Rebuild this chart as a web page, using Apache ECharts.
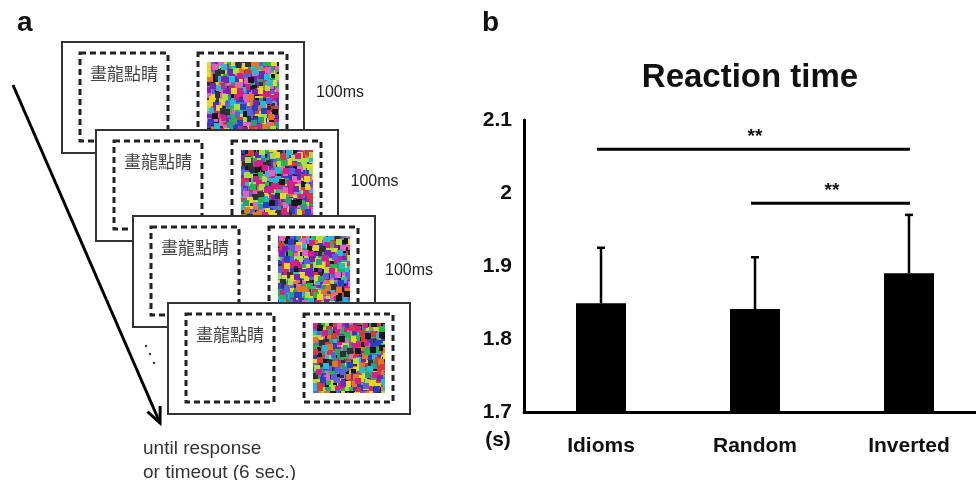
<!DOCTYPE html>
<html>
<head>
<meta charset="utf-8">
<script src="https://cdn.jsdelivr.net/npm/echarts@6/dist/echarts.min.js"></script>
<style>
  html, body { margin: 0; padding: 0; background: #fff; overflow: hidden; }
  #chart { width: 1000px; height: 480px; }
</style>
</head>
<body>
<div id="chart"></div>
<script>
// panel b data
const categories = ['Idioms', 'Random', 'Inverted'];
const meanRT = [1.849, 1.841, 1.890];
const errTop = [1.925, 1.912, 1.970];
const yTicks = { min: 1.7, max: 2.1, interval: 0.1 };
// significance brackets: [from category index, to category index, y level]
const sigPairs = [[0, 2, 2.06], [1, 2, 1.986]];
const sigLabels = ['**', '**'];

// panel a text
const idiom = '畫龍點睛';
const durations = ['100ms', '100ms', '100ms'];
const endNote = ['until response', 'or timeout (6 sec.)'];

const FONT = '"Liberation Sans", Arial, sans-serif';
const chart = echarts.init(document.getElementById('chart'));

// colour-noise mask, drawn once per frame on a small canvas (decoration only)
const palette = ['#d81c8c', '#1fb84a', '#20bcd8', '#2a3fc8', '#e8d820', '#e8761c',
  '#7a22b8', '#151515', '#a8e040', '#d83a3a', '#e860c0', '#2a9a80', '#5a60e0', '#303030'];
function noiseCanvas(w, h, seed) {
  const c = document.createElement('canvas');
  c.width = w; c.height = h;
  const ctx = c.getContext('2d');
  const cell = 4;
  for (let pass = 0; pass < 3; pass++) {
    for (let j = 0; j < h / cell + 1; j++) {
      for (let i = 0; i < w / cell + 1; i++) {
        let k = Math.imul(i + 31 * pass, 73856093) ^ Math.imul(j + 17 + 5 * pass, 19349663) ^ Math.imul(seed + 7, 83492791);
        k = (k ^ (k >>> 13)) >>> 0;
        k = Math.imul(k, 2654435761) >>> 0;
        if (pass > 0 && (k & 3) !== 0) continue;
        ctx.fillStyle = palette[(k >>> 5) % palette.length];
        const dx = pass ? ((k >>> 9) % 5) - 2 : 0;
        const dy = pass ? ((k >>> 12) % 5) - 2 : 0;
        ctx.fillRect(i * cell + dx, j * cell + dy, cell + pass, cell + (pass ? 2 : 0));
      }
    }
  }
  return c;
}

const frameOrigins = [[62, 42], [96, 130], [133, 216], [168, 303]];
const dashStyle = { fill: null, stroke: '#222', lineWidth: 3, lineDash: [6, 4] };

const frames = frameOrigins.map(([ox, oy], k) => ({
  type: 'group',
  x: ox, y: oy, z: 10 + k,
  children: [
    { type: 'rect', shape: { x: 0, y: 0, width: 242, height: 111 },
      style: { fill: '#fff', stroke: '#333', lineWidth: 2 } },
    { type: 'rect', shape: { x: 18, y: 11, width: 88, height: 88 }, style: dashStyle },
    { type: 'rect', shape: { x: 136, y: 11, width: 89, height: 88 }, style: dashStyle },
    { type: 'image', style: { image: noiseCanvas(72, 70, k), x: 145, y: 20, width: 72, height: 70 } },
    { type: 'text', x: 28, y: 32,
      style: { text: idiom, fill: '#444', font: '17px "Noto Sans CJK TC", sans-serif', textVerticalAlign: 'middle' } }
  ]
}));

const durationText = durations.map((t, k) => ({
  type: 'text', x: 316 + k * 34.5, y: 93 + k * 89,
  style: { text: t, fill: '#222', font: '16px ' + FONT, textVerticalAlign: 'middle' }
}));

// arrow down the left side
const ax0 = 13, ay0 = 85, ax1 = 160, ay1 = 423;
const ang = Math.atan2(ay1 - ay0, ax1 - ax0);
const head = 17, spread = 0.42;
const arrow = [
  { type: 'line', shape: { x1: ax0, y1: ay0, x2: ax1, y2: ay1 }, style: { stroke: '#000', lineWidth: 3 } },
  { type: 'polyline', shape: { points: [
      [ax1 - head * Math.cos(ang - spread), ay1 - head * Math.sin(ang - spread)],
      [ax1, ay1],
      [ax1 - head * Math.cos(ang + spread), ay1 - head * Math.sin(ang + spread)]] },
    style: { stroke: '#000', lineWidth: 3, fill: null } }
];
const dots = [[146, 346], [150, 354], [154, 363]].map(([x, y]) => ({
  type: 'circle', shape: { cx: x, cy: y, r: 1.2 }, style: { fill: '#333' }
}));
const notes = endNote.map((t, i) => ({
  type: 'text', x: 143, y: 449 + i * 24,
  style: { text: t, fill: '#333', font: '19px ' + FONT, textVerticalAlign: 'middle' }
}));

const labels = [
  { type: 'text', x: 17, y: 37, style: { text: 'a', fill: '#111', font: 'bold 28px ' + FONT, textVerticalAlign: 'bottom' } },
  { type: 'text', x: 482, y: 37, style: { text: 'b', fill: '#111', font: 'bold 28px ' + FONT, textVerticalAlign: 'bottom' } },
  { type: 'text', x: 750, y: 78, style: { text: 'Reaction time', fill: '#111', font: 'bold 33px ' + FONT, textAlign: 'center', textVerticalAlign: 'middle' } },
  { type: 'text', x: 498, y: 440, style: { text: '(s)', fill: '#111', font: 'bold 21px ' + FONT, textAlign: 'center', textVerticalAlign: 'middle' } }
];

chart.setOption({
  animation: false,
  grid: { left: 524, top: 120, width: 462, height: 292 },
  xAxis: {
    type: 'category',
    data: categories,
    axisLine: { lineStyle: { color: '#000', width: 3 } },
    axisTick: { show: false },
    axisLabel: { color: '#111', fontFamily: FONT, fontWeight: 'bold', fontSize: 21, margin: 24 }
  },
  yAxis: {
    type: 'value',
    min: yTicks.min, max: yTicks.max, interval: yTicks.interval,
    axisLine: { show: true, lineStyle: { color: '#000', width: 3 } },
    axisTick: { show: false },
    splitLine: { show: false },
    axisLabel: { color: '#111', fontFamily: FONT, fontWeight: 'bold', fontSize: 21, margin: 12 }
  },
  series: [
    {
      type: 'bar',
      data: meanRT,
      barWidth: 50,
      itemStyle: { color: '#000' },
      z: 2
    },
    {
      type: 'custom',
      data: errTop.map((v, i) => [i, meanRT[i], v]),
      renderItem: (params, api) => {
        const base = api.coord([api.value(0), api.value(1)]);
        const top = api.coord([api.value(0), api.value(2)]);
        return {
          type: 'group',
          children: [
            { type: 'line', shape: { x1: base[0], y1: base[1], x2: top[0], y2: top[1] }, style: { stroke: '#000', lineWidth: 2.5 } },
            { type: 'line', shape: { x1: top[0] - 4, y1: top[1], x2: top[0] + 4, y2: top[1] }, style: { stroke: '#000', lineWidth: 2.5 } }
          ]
        };
      },
      z: 1
    },
    {
      type: 'custom',
      data: sigPairs,
      renderItem: (params, api) => {
        const a = api.coord([api.value(0), api.value(2)]);
        const b = api.coord([api.value(1), api.value(2)]);
        return {
          type: 'group',
          children: [
            { type: 'line', shape: { x1: a[0] - 4, y1: a[1], x2: b[0] + 1, y2: b[1] }, style: { stroke: '#000', lineWidth: 3 } },
            { type: 'text', x: (a[0] + b[0]) / 2, y: a[1] - 3,
              style: { text: sigLabels[params.dataIndex], fill: '#111', font: 'bold 19px ' + FONT, textAlign: 'center', textVerticalAlign: 'bottom' } }
          ]
        };
      }
    }
  ],
  graphic: [...frames, ...durationText, ...arrow, ...dots, ...notes, ...labels]
});
</script>
</body>
</html>
